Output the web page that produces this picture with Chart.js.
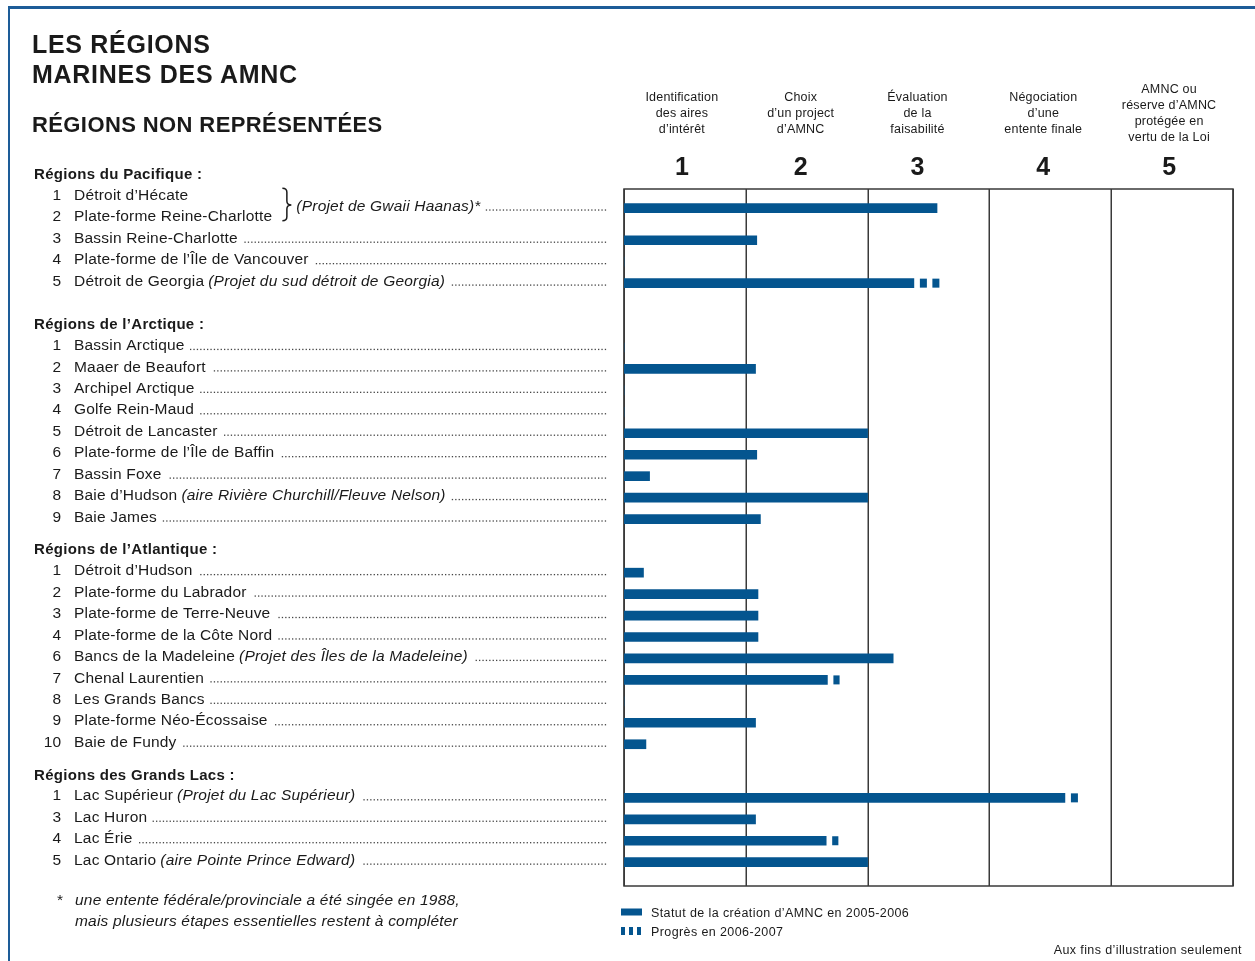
<!DOCTYPE html>
<html lang="fr">
<head>
<meta charset="utf-8">
<title>Les régions marines des AMNC</title>
<script src="https://cdn.jsdelivr.net/npm/chart.js@4.4.1/dist/chart.umd.min.js"></script>
<style>
  html, body { margin: 0; padding: 0; background: #fff; }
  body { width: 1255px; height: 961px; position: relative; overflow: hidden;
         font-family: "Liberation Sans", Arial, sans-serif; color: #1a1a1a; }
  #frame { position: absolute; left: 8px; top: 6px; width: 1260px; height: 970px;
           border-top: 3px solid #1d5c98; border-left: 2px solid #1d5c98; }
  #chart { position: absolute; left: 0; top: 0; }
  .title { position: absolute; left: 32px; top: 29px; margin: 0; font-size: 25px; line-height: 30px;
           font-weight: bold; letter-spacing: 0.7px; }
  .subtitle { position: absolute; left: 32px; top: 114px; margin: 0; font-size: 22px; line-height: 22px;
              font-weight: bold; letter-spacing: 0.4px; }
  .note { position: absolute; left: 57px; top: 889px; margin: 0; font-size: 15.5px; line-height: 21px;
          letter-spacing: 0.2px; }
  .note span { position: absolute; left: 18px; white-space: nowrap; font-style: italic; }
  .credit { position: absolute; right: 13px; top: 943px; margin: 0; font-size: 12.5px; line-height: 15px;
            letter-spacing: 0.4px; }
</style>
</head>
<body>
<div id="frame"></div>
<canvas id="chart" width="1255" height="961"></canvas>
<h1 class="title">LES RÉGIONS<br>MARINES DES AMNC</h1>
<h2 class="subtitle">RÉGIONS NON REPRÉSENTÉES</h2>
<p class="note">*<span>une entente fédérale/provinciale a été singée en 1988,<br>mais plusieurs étapes essentielles restent à compléter</span></p>
<p class="credit">Aux fins d’illustration seulement</p>
<script>
// stages of creation (x axis, one column each)
const stageNumbers = ['1', '2', '3', '4', '5'];
const stageNames = [
    ['Identification', 'des aires', 'd’intérêt'],
    ['Choix', 'd’un project', 'd’AMNC'],
    ['Évaluation', 'de la', 'faisabilité'],
    ['Négociation', 'd’une', 'entente finale'],
    ['AMNC ou', 'réserve d’AMNC', 'protégée en', 'vertu de la Loi']
];
const legendLabels = ['Statut de la création d’AMNC en 2005-2006', 'Progrès en 2006-2007'];

const sectionTitles = ['Régions du Pacifique :', 'Régions de l’Arctique :', 'Régions de l’Atlantique :', 'Régions des Grands Lacs :'];

// Pacifique (1 and 2 are one project, written on the braced line)
const pacificNumbers = [1, 2, 3, 4, 5];
const pacificNames = ['Détroit d’Hécate', 'Plate-forme Reine-Charlotte', 'Bassin Reine-Charlotte', 'Plate-forme de l’Île de Vancouver', 'Détroit de Georgia'];
const pacificNotes = ['', '', '', '', 'Projet du sud détroit de Georgia'];
const pacificStatus = [null, null, 1.09, 0, 2.38];
const pacificProgress = [null, null, null, null, 2.59];
const gwaiiNote = 'Projet de Gwaii Haanas';
const gwaiiStatus = 2.57;

// Arctique
const arcticNumbers = [1, 2, 3, 4, 5, 6, 7, 8, 9];
const arcticNames = ['Bassin Arctique', 'Maaer de Beaufort', 'Archipel Arctique', 'Golfe Rein-Maud', 'Détroit de Lancaster', 'Plate-forme de l’Île de Baffin', 'Bassin Foxe', 'Baie d’Hudson', 'Baie James'];
const arcticNotes = ['', '', '', '', '', '', '', 'aire Rivière Churchill/Fleuve Nelson', ''];
const arcticStatus = [0, 1.08, 0, 0, 2.0, 1.09, 0.21, 2.0, 1.12];
const arcticProgress = [null, null, null, null, null, null, null, null, null];

// Atlantique
const atlanticNumbers = [1, 2, 3, 4, 6, 7, 8, 9, 10];
const atlanticNames = ['Détroit d’Hudson', 'Plate-forme du Labrador', 'Plate-forme de Terre-Neuve', 'Plate-forme de la Côte Nord', 'Bancs de la Madeleine', 'Chenal Laurentien', 'Les Grands Bancs', 'Plate-forme Néo-Écossaise', 'Baie de Fundy'];
const atlanticNotes = ['', '', '', '', 'Projet des Îles de la Madeleine', '', '', '', ''];
const atlanticStatus = [0.16, 1.10, 1.10, 1.10, 2.21, 1.67, 0, 1.08, 0.18];
const atlanticProgress = [null, null, null, null, null, 1.77, null, null, null];

// Grands Lacs
const lakesNumbers = [1, 3, 4, 5];
const lakesNames = ['Lac Supérieur', 'Lac Huron', 'Lac Érie', 'Lac Ontario'];
const lakesNotes = ['Projet du Lac Supérieur', '', '', 'aire Pointe Prince Edward'];
const lakesStatus = [3.62, 1.08, 1.66, 2.0];
const lakesProgress = [3.73, null, 1.76, null];

const BLUE = '#04558f';
const INK = '#1a1a1a';
const GRID = '#3a3a3a';
const FAMILY = '"Liberation Sans", Arial, sans-serif';
const SHIFT = 3; // bars sit a little below the text lines of the list

// --- build the half-line slots used by the category axis ---
const sections = [
    { numbers: pacificNumbers, names: pacificNames, notes: pacificNotes, status: pacificStatus, progress: pacificProgress },
    { numbers: arcticNumbers, names: arcticNames, notes: arcticNotes, status: arcticStatus, progress: arcticProgress },
    { numbers: atlanticNumbers, names: atlanticNames, notes: atlanticNotes, status: atlanticStatus, progress: atlanticProgress },
    { numbers: lakesNumbers, names: lakesNames, notes: lakesNotes, status: lakesStatus, progress: lakesProgress }
];
const gapBefore = [0, 4, 3, 3]; // half-lines between a section's last row and the next title

const rows = [];
const headers = [];
let slot = -2; // first title sits above the plot frame
let lastSlot = 0;
sections.forEach((sec, k) => {
    if (k > 0) slot = lastSlot + gapBefore[k];
    headers.push({ text: sectionTitles[k], slot: slot });
    slot += 2;
    sec.names.forEach((name, i) => {
        rows.push({ slot: slot, number: sec.numbers[i], name: name, note: sec.notes[i],
                    status: sec.status[i], progress: sec.progress[i], leader: sec.status[i] !== null });
        lastSlot = slot;
        slot += 2;
    });
});
const bracedRows = rows.filter(r => r.status === null);
const gwaiiRow = { slot: (bracedRows[0].slot + bracedRows[1].slot) / 2, number: null, name: '', note: gwaiiNote,
                   star: true, status: gwaiiStatus, progress: null, leader: true, braced: true };
rows.push(gwaiiRow);

const slotCount = lastSlot + 3;
const slotLabels = [], slotStatus = [], slotProgress = [];
for (let i = 0; i < slotCount; i++) { slotLabels.push(''); slotStatus.push(null); slotProgress.push(null); }
rows.forEach(r => {
    slotLabels[r.slot] = [r.number, r.name, r.note].filter(Boolean).join(' ');
    if (r.status !== null) slotStatus[r.slot] = r.status;
    if (r.progress !== null) slotProgress[r.slot] = [r.status, r.progress];
});

function font(size, extra) {
    return (extra || '') + ' ' + size + 'px ' + FAMILY;
}

// frame, column lines, texts, leaders and the dashed progress bars
const sheetPlugin = {
    id: 'sheet',
    beforeDatasetsDraw(chart) {
        const { ctx, chartArea: a, scales: { x } } = chart;
        const top = a.top - SHIFT, bottom = a.bottom - SHIFT;
        ctx.save();
        ctx.strokeStyle = GRID;
        ctx.lineWidth = 1.5;
        x.ticks.forEach(t => {
            const px = Math.round(x.getPixelForValue(t.value)) + 0.25;
            ctx.beginPath();
            ctx.moveTo(px, top);
            ctx.lineTo(px, bottom);
            ctx.stroke();
        });
        ctx.strokeRect(a.left, top, a.right - a.left, bottom - top);
        ctx.restore();
    },
    afterDatasetsDraw(chart) {
        const { ctx } = chart;
        ctx.save();
        ctx.fillStyle = BLUE;
        chart.getDatasetMeta(1).data.forEach((el, i) => {
            if (!slotProgress[i]) return;
            const p = el.getProps(['x', 'y', 'base', 'height'], true);
            let pos = p.base + 6;
            while (pos < p.x - 1) {
                ctx.fillRect(pos, p.y - p.height / 2, Math.min(7, p.x - pos), p.height);
                pos += 12.5;
            }
        });
        ctx.restore();
    },
    afterDraw(chart) {
        const { ctx, chartArea: a, scales: { x, y } } = chart;
        const step = y.getPixelForValue(1) - y.getPixelForValue(0);
        const slotY = s => y.getPixelForValue(0) + s * step - SHIFT;
        const top = a.top - SHIFT, bottom = a.bottom - SHIFT;
        const leaderEnd = a.left - 18;
        ctx.save();
        ctx.fillStyle = INK;
        ctx.strokeStyle = INK;
        ctx.textBaseline = 'alphabetic';

        // section titles
        ctx.font = font(15, 'bold');
        ctx.letterSpacing = '0.3px';
        ctx.textAlign = 'left';
        headers.forEach(h => ctx.fillText(h.text, 34, slotY(h.slot) + 6.2));

        // braced rows first, so the brace can follow the longest one
        let braceLeft = 0;
        ctx.font = font(15.5);
        ctx.letterSpacing = '0.2px';
        bracedRows.forEach(r => { braceLeft = Math.max(braceLeft, 74 + ctx.measureText(r.name).width); });
        braceLeft += 10;

        rows.forEach(r => {
            const base = slotY(r.slot) + 5.6;
            if (r.number !== null) {
                ctx.font = font(15.5);
                ctx.letterSpacing = '0px';
                ctx.textAlign = 'right';
                ctx.fillText(String(r.number), 61, base);
            }
            ctx.textAlign = 'left';
            ctx.letterSpacing = '0.2px';
            let pos = r.braced ? braceLeft + 14 : 74;
            if (r.name) {
                ctx.font = font(15.5);
                ctx.fillText(r.name, pos, base);
                pos += ctx.measureText(r.name).width;
            }
            if (r.note) {
                if (r.name) pos += 4;
                ctx.font = font(15.5, 'italic');
                const t = '(' + r.note + ')' + (r.star ? '*' : '');
                ctx.fillText(t, pos, base);
                pos += ctx.measureText(t).width;
            }
            if (r.leader) {
                ctx.fillStyle = '#444';
                for (let dx = leaderEnd; dx > pos + 6; dx -= 3.4) ctx.fillRect(dx - 1.2, base - 1.3, 1.3, 1.3);
                ctx.fillStyle = INK;
            }
        });

        // brace joining the first two Pacific rows
        const t = slotY(bracedRows[0].slot) - 6, b = slotY(bracedRows[1].slot) + 5, m = slotY(gwaiiRow.slot);
        const bx = braceLeft;
        ctx.lineWidth = 1.5;
        ctx.beginPath();
        ctx.moveTo(bx, t);
        ctx.quadraticCurveTo(bx + 4.5, t, bx + 4.5, t + 4);
        ctx.lineTo(bx + 4.5, m - 4);
        ctx.quadraticCurveTo(bx + 4.5, m, bx + 9, m);
        ctx.quadraticCurveTo(bx + 4.5, m, bx + 4.5, m + 4);
        ctx.lineTo(bx + 4.5, b - 4);
        ctx.quadraticCurveTo(bx + 4.5, b, bx, b);
        ctx.stroke();

        // stage headers
        const headerNudge = [-3, -6, -11, -7, -3];
        ctx.textAlign = 'center';
        stageNames.forEach((lines, i) => {
            const cx = x.getPixelForValue(i + 0.5) + headerNudge[i];
            const first = top - 77 - (lines.length - 1) * 8;
            ctx.font = font(12.5);
            ctx.letterSpacing = '0.2px';
            lines.forEach((ln, j) => ctx.fillText(ln, cx, first + j * 16 + 4.5));
            ctx.font = font(25, 'bold');
            ctx.letterSpacing = '0px';
            ctx.fillText(stageNumbers[i], cx, top - 14.5);
        });

        // legend
        const lx = a.left - 3, ly1 = bottom + 26, ly2 = bottom + 45;
        ctx.fillStyle = BLUE;
        ctx.fillRect(lx, ly1 - 3.5, 21, 7);
        for (let k = 0; k < 3; k++) ctx.fillRect(lx + k * 8, ly2 - 4, 4, 8);
        ctx.fillStyle = INK;
        ctx.textAlign = 'left';
        ctx.font = font(12.5);
        ctx.letterSpacing = '0.4px';
        ctx.fillText(legendLabels[0], lx + 30, ly1 + 4.5);
        ctx.fillText(legendLabels[1], lx + 30, ly2 + 4.5);
        ctx.restore();
    }
};

new Chart(document.getElementById('chart'), {
    type: 'bar',
    data: {
        labels: slotLabels,
        datasets: [
            { label: legendLabels[0], data: slotStatus, backgroundColor: BLUE, barThickness: 9, grouped: false },
            { label: legendLabels[1], data: slotProgress, backgroundColor: 'rgba(0,0,0,0)', barThickness: 9, grouped: false }
        ]
    },
    options: {
        indexAxis: 'y',
        responsive: false,
        animation: false,
        layout: { padding: { left: 624, top: 189 + SHIFT, right: 22, bottom: 75 - SHIFT } },
        plugins: { legend: { display: false }, tooltip: { enabled: false } },
        scales: {
            x: {
                min: 0, max: 5,
                ticks: { display: false, stepSize: 1 },
                grid: { display: false, drawTicks: false },
                border: { display: false }
            },
            y: { display: false }
        }
    },
    plugins: [sheetPlugin]
});
</script>
</body>
</html>
